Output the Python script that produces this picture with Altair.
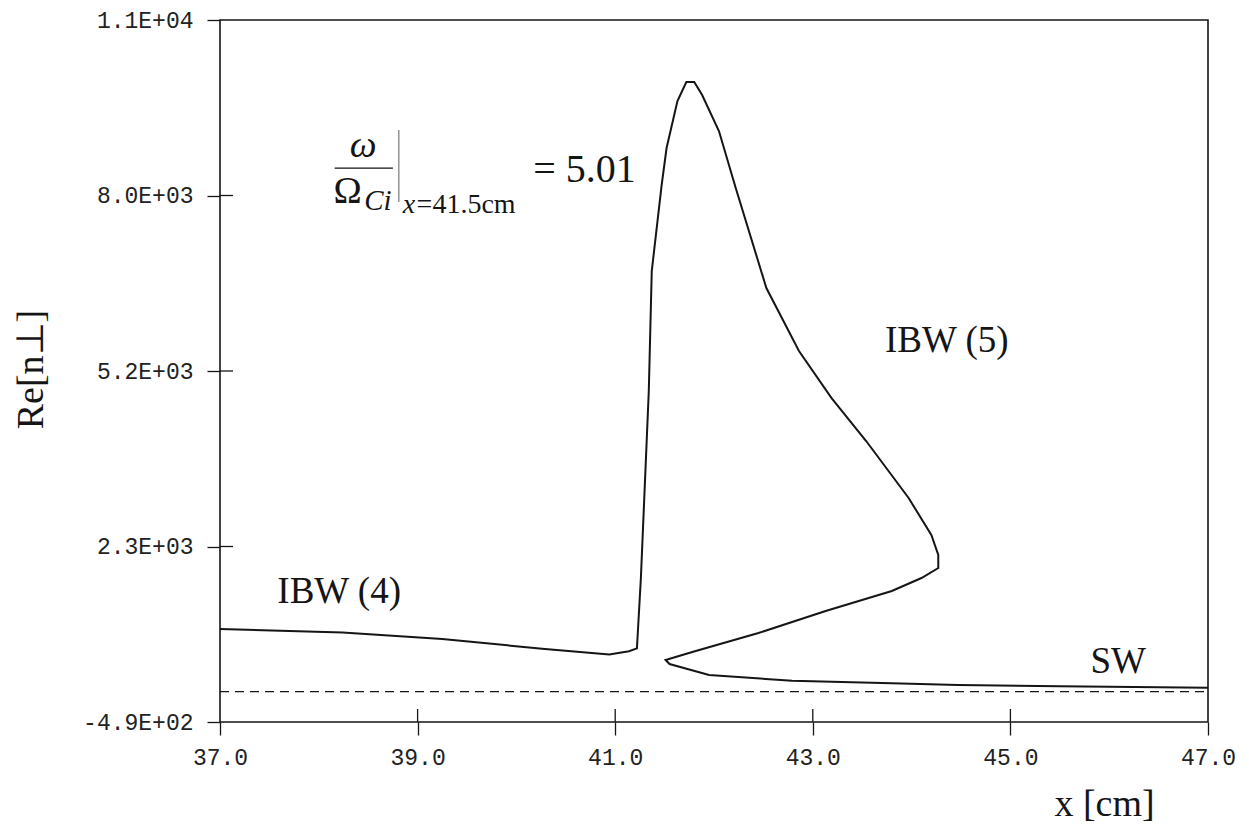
import altair as alt
import pandas as pd

# ---- data ----
curve_x = [37.0, 38.24, 39.25, 40.26, 40.94, 41.14, 41.22, 41.26, 41.34, 41.37, 41.47, 41.52,
           41.63, 41.72, 41.80, 41.88, 42.05, 42.22, 42.53, 42.86, 43.19, 43.54, 43.97, 44.20,
           44.27, 44.27, 44.10, 43.80, 43.13, 42.45, 41.78, 41.51, 41.55, 41.95, 42.79, 43.80,
           44.47, 45.5, 47.0]
curve_y = [1010, 953, 847, 692, 600, 650, 698, 1832, 4847, 6782, 8169, 8766,
           9523, 9830, 9830, 9620, 9040, 8121, 6508, 5492, 4734, 4041, 3122, 2525,
           2203, 1993, 1832, 1622, 1300, 945, 639, 510, 445, 268, 176, 134,
           107, 88, 63]

x_ticks = [37, 39, 41, 43, 45, 47]
x_inner_ticks = [39, 41, 43, 45]
y_ticks = [-490, 2340, 5170, 8000, 10830]
y_tick_labels = ["-4.9E+02", "2.3E+03", "5.2E+03", "8.0E+03", "1.1E+04"]
y_inner_ticks = [2340, 5170, 8000]
x_domain = [37, 47]
y_domain = [-490, 10830]

mode_labels = ["IBW (4)", "IBW (5)", "SW"]
mode_x = [37.58, 43.73, 45.81]
mode_y = [1429, 5476, 300]

W, H = 988, 702
INK = "#151515"
SERIF = "Liberation Serif"

curve = pd.DataFrame({"x": curve_x, "y": curve_y, "order": list(range(len(curve_x)))})

label_expr = "".join(
    f"datum.value == {v} ? '{l}' : " for v, l in zip(y_ticks, y_tick_labels)
) + "''"

xs = alt.Scale(domain=x_domain, nice=False, zero=False)
ys = alt.Scale(domain=y_domain, nice=False, zero=False)

line = alt.Chart(curve).mark_line(color=INK, strokeWidth=2).encode(
    x=alt.X("x:Q", scale=xs,
            axis=alt.Axis(values=x_ticks, format=".1f", title="x [cm]",
                          tickSize=13, tickWidth=1.3, tickColor=INK, domain=False, grid=False,
                          labelFont="Liberation Mono", labelFontSize=23, labelColor="#222",
                          labelPadding=11, labelFlush=False, labelOverlap=False,
                          titleFont=SERIF, titleFontSize=38, titleFontWeight="normal",
                          titleColor=INK, titleX=884, titleY=93, titleAlign="center",
                          titleBaseline="alphabetic")),
    y=alt.Y("y:Q", scale=ys,
            axis=alt.Axis(values=y_ticks, labelExpr=label_expr, title="Re[n\u22a5]",
                          tickSize=13, tickWidth=1.3, tickColor=INK, domain=False, grid=False,
                          labelFont="Liberation Mono", labelFontSize=23, labelColor="#222",
                          labelPadding=14, labelFlush=False, labelOverlap=False,
                          titleFont=SERIF, titleFontSize=38, titleFontWeight="normal",
                          titleColor=INK, titleAngle=270, titleX=-189, titleY=349,
                          titleAlign="center", titleBaseline="middle")),
    order="order:Q",
)

zero_line = alt.Chart(pd.DataFrame({"x": [x_domain[0]], "x2": [x_domain[1]], "y": [0]})).mark_rule(
    color=INK, strokeWidth=1.3, strokeDash=[9, 6]
).encode(x="x:Q", x2="x2:Q", y="y:Q")

x_in = alt.Chart(pd.DataFrame({"x": x_inner_ticks})).mark_rule(color=INK, strokeWidth=1.3).encode(
    x="x:Q", y=alt.value(H - 13), y2=alt.value(H))

y_in = alt.Chart(pd.DataFrame({"y": y_inner_ticks})).mark_rule(color=INK, strokeWidth=1.3).encode(
    y="y:Q", x=alt.value(0), x2=alt.value(13))

modes = alt.Chart(pd.DataFrame({"x": mode_x, "y": mode_y, "t": mode_labels})).mark_text(
    font=SERIF, fontSize=37, color=INK, align="left", baseline="alphabetic"
).encode(x="x:Q", y="y:Q", text="t:N")

# annotation:  omega / Omega_Ci |_{x=41.5cm} = 5.01
def txt(x, y, t, size, style="normal", align="left"):
    return alt.Chart(pd.DataFrame({"x": [x], "y": [y], "t": [t]})).mark_text(
        font=SERIF, fontSize=size, fontStyle=style, color=INK, align=align, baseline="alphabetic"
    ).encode(x="x:Q", y="y:Q", text="t:N")

omega = txt(38.45, 8621, "\u03c9", 38, "italic", "center")
Omega = txt(38.15, 7879, "\u03a9", 38)
ci = txt(38.46, 7766, "Ci", 29, "italic")
sub_x = txt(38.85, 7718, "x", 28, "italic")
sub = txt(38.99, 7718, "=41.5cm", 28)
eq = txt(40.17, 8217, "= 5.01", 40)

frac = alt.Chart(pd.DataFrame({"x": [38.16], "x2": [38.75], "y": [8443]})).mark_rule(
    color=INK, strokeWidth=1.3).encode(x="x:Q", x2="x2:Q", y="y:Q")
vbar = alt.Chart(pd.DataFrame({"x": [38.81], "y": [9056], "y2": [7895]})).mark_rule(
    color="#777", strokeWidth=1.2).encode(x="x:Q", y="y:Q", y2="y2:Q")

chart = alt.layer(line, zero_line, x_in, y_in, modes, omega, Omega, ci, sub_x, sub, eq, frac, vbar).properties(
    width=W, height=H,
    autosize=alt.AutoSizeParams(type="none"),
    padding={"left": 212, "top": 12, "right": 33, "bottom": 106},
).configure(background="white").configure_view(stroke=INK, strokeWidth=1.6)

chart.save("out.html", embed_options={"renderer": "svg", "actions": False})
